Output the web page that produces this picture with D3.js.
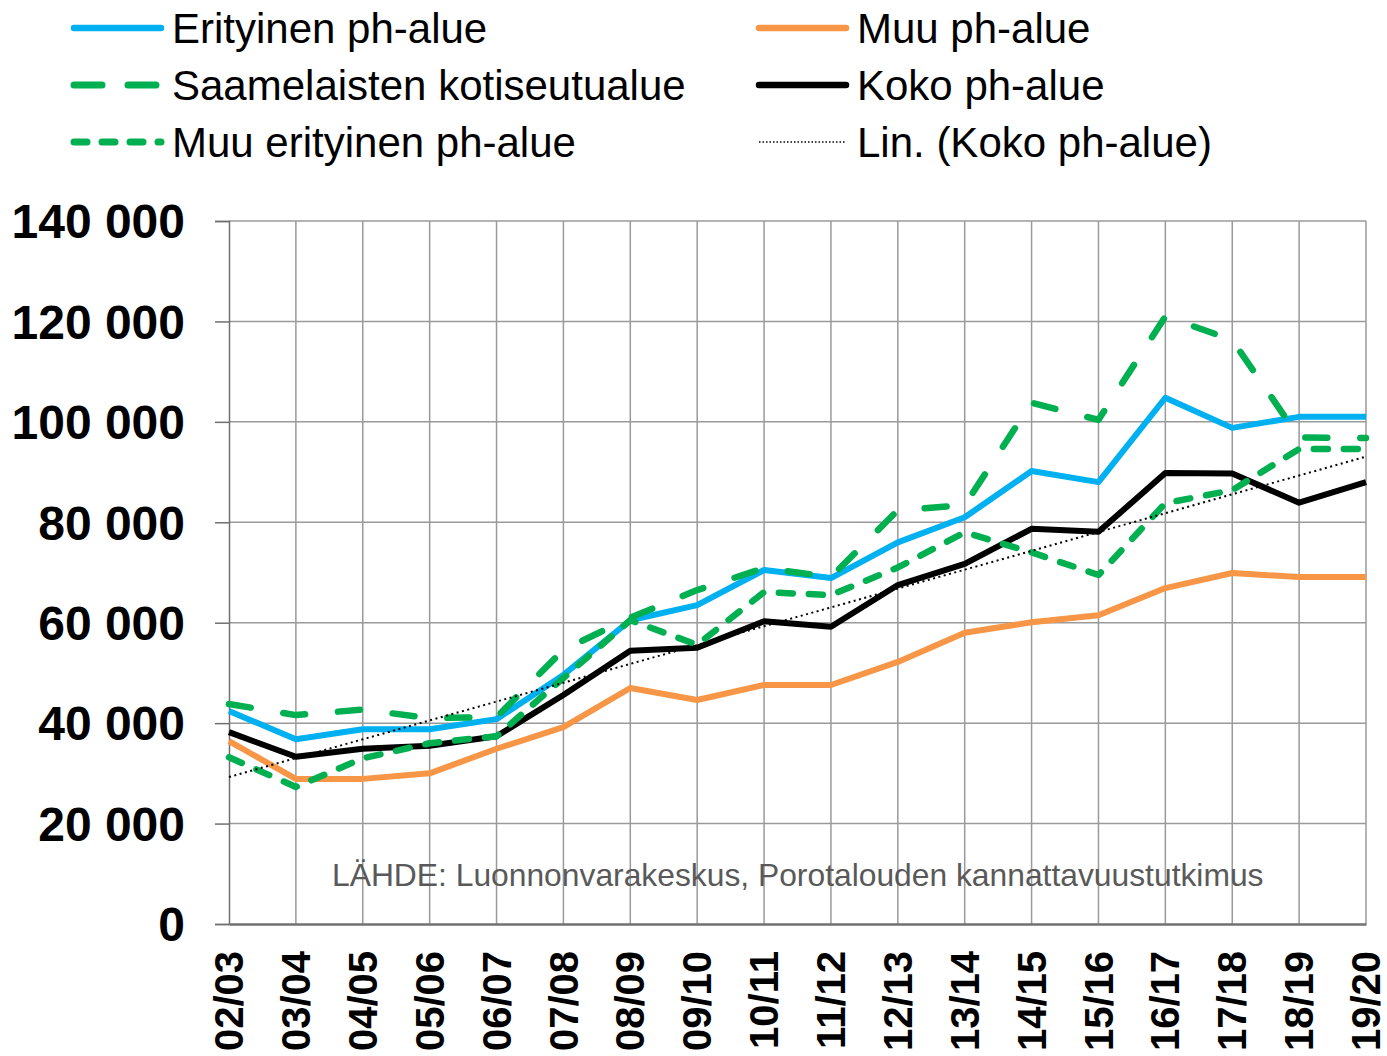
<!DOCTYPE html>
<html>
<head>
<meta charset="utf-8">
<script src="https://cdn.jsdelivr.net/npm/d3@7"></script>
<style>
  html, body { margin: 0; padding: 0; background: #fff; }
  svg { display: block; font-family: "Liberation Sans", Arial, sans-serif; }
</style>
</head>
<body>
<svg id="chart" width="1387" height="1056"></svg>
<script>
// ---- Data ----
const categories = ["02/03","03/04","04/05","05/06","06/07","07/08","08/09","09/10","10/11","11/12","12/13","13/14","14/15","15/16","16/17","17/18","18/19","19/20"];
const erityinen   = [42400, 36800, 38800, 38800, 40800, 49600, 60500, 63500, 70500, 68900, 76000, 81000, 90200, 88000, 104800, 98800, 101000, 101000];
const saamelaisten = [43800, 41600, 42700, 41000, 41200, 54600, 61000, 66500, 70900, 69100, 82400, 83400, 103800, 100400, 121000, 116300, 96900, 96800];
const muuErityinen = [33200, 27300, 33000, 36000, 37400, 49000, 60500, 55600, 66100, 65500, 71000, 78000, 74000, 69500, 83800, 86400, 94600, 94600];
const muuPh       = [36400, 28900, 28900, 30000, 34900, 39200, 47000, 44600, 47600, 47600, 52200, 58000, 60100, 61500, 66900, 69900, 69100, 69100];
const koko        = [38200, 33300, 34900, 35500, 37400, 45600, 54400, 55000, 60300, 59200, 67500, 71700, 78700, 78100, 89800, 89700, 83900, 88000];
const yTicks = [0, 20000, 40000, 60000, 80000, 100000, 120000, 140000];
const sourceText = "LÄHDE: Luonnonvarakeskus, Porotalouden kannattavuustutkimus";

// linear trend of Koko ph-alue (least squares)
const n = koko.length;
const mx = d3.mean(d3.range(n)), my = d3.mean(koko);
const slope = d3.sum(d3.range(n), i => (i - mx) * (koko[i] - my)) / d3.sum(d3.range(n), i => (i - mx) ** 2);
const intercept = my - slope * mx;
const trend = d3.range(n).map(i => intercept + slope * i);

// ---- Layout ----
const svg = d3.select("#chart");
const L = 229, R = 1366, T = 221, B = 924;
const x = d3.scalePoint().domain(categories).range([L, R]);
const y = d3.scaleLinear().domain([0, 140000]).range([B, T]);

// gridlines
const grid = svg.append("g");
grid.selectAll("line.h").data(yTicks.slice(1)).join("line")
  .attr("x1", L).attr("x2", R).attr("y1", d => y(d)).attr("y2", d => y(d))
  .attr("stroke", "#9a9a9a").attr("stroke-width", 1.5);
grid.selectAll("line.v").data(categories.slice(1)).join("line")
  .attr("x1", d => x(d)).attr("x2", d => x(d)).attr("y1", T).attr("y2", B)
  .attr("stroke", "#9a9a9a").attr("stroke-width", 1.5);

// y axis
const yAxis = d3.axisLeft(y).tickValues(yTicks).tickSize(14).tickPadding(30)
  .tickFormat(d => d3.format(",")(d).replace(/,/g, " "));
const gy = svg.append("g").attr("transform", `translate(${L},0)`).call(yAxis);
gy.select(".domain").attr("stroke", "#707070").attr("stroke-width", 1.5);
gy.selectAll(".tick line").attr("stroke", "#707070").attr("stroke-width", 1.5);
gy.selectAll(".tick text").attr("font-size", 48).attr("font-weight", "bold").attr("fill", "#000")
  .attr("font-family", "Liberation Sans, Arial, sans-serif").attr("dy", "0.35em");

// x axis
const xAxis = d3.axisBottom(x).tickSize(0).tickPadding(0);
const gx = svg.append("g").attr("transform", `translate(0,${B})`).call(xAxis);
gx.select(".domain").attr("stroke", "#707070").attr("stroke-width", 2.5);
gx.selectAll(".tick text")
  .attr("font-size", 40).attr("font-weight", "bold").attr("fill", "#000")
  .attr("font-family", "Liberation Sans, Arial, sans-serif")
  .attr("text-anchor", "end")
  .attr("transform", "translate(0,27) rotate(-90)")
  .attr("x", 0).attr("y", 0).attr("dy", "0.34em");

// source text
svg.append("text").attr("x", 332).attr("y", 886).text(sourceText)
  .attr("font-size", 31.8).attr("fill", "#595959");

// series
const line = d3.line().x((d, i) => x(categories[i])).y(d => y(d));
const series = [
  { name: "Erityinen ph-alue", values: erityinen, color: "#00B0F0", width: 6, dash: null },
  { name: "Muu ph-alue", values: muuPh, color: "#F79646", width: 6, dash: null },
  { name: "Koko ph-alue", values: koko, color: "#000000", width: 6, dash: null },
  { name: "Saamelaisten kotiseutualue", values: saamelaisten, color: "#00B050", width: 6.5, dash: "22,33" },
  { name: "Muu erityinen ph-alue", values: muuErityinen, color: "#00B050", width: 6.5, dash: "14,16" },
];
svg.append("g").selectAll("path").data(series).join("path")
  .attr("d", d => line(d.values))
  .attr("fill", "none").attr("stroke", d => d.color).attr("stroke-width", d => d.width)
  .attr("stroke-linejoin", "round")
  .attr("stroke-linecap", d => d.dash ? "round" : "butt")
  .attr("stroke-dasharray", d => d.dash);
svg.append("path").attr("d", line(trend)).attr("fill", "none")
  .attr("stroke", "#000").attr("stroke-width", 2).attr("stroke-dasharray", "2,3.5");

// legend
const legend = [
  { name: "Erityinen ph-alue", color: "#00B0F0", col: 0, row: 0, w: 6.5, dash: null, cap: "round" },
  { name: "Saamelaisten kotiseutualue", color: "#00B050", col: 0, row: 1, w: 7, dash: "28,26", cap: "round" },
  { name: "Muu erityinen ph-alue", color: "#00B050", col: 0, row: 2, w: 7, dash: "13,15", cap: "round" },
  { name: "Muu ph-alue", color: "#F79646", col: 1, row: 0, w: 6.5, dash: null, cap: "round" },
  { name: "Koko ph-alue", color: "#000000", col: 1, row: 1, w: 6.5, dash: null, cap: "round" },
  { name: "Lin. (Koko ph-alue)", color: "#000000", col: 1, row: 2, w: 1.5, dash: "1.5,2", cap: "butt" },
];
const colX = [74, 759];
const rowY = [28, 85, 142];
const lg = svg.append("g").selectAll("g").data(legend).join("g")
  .attr("transform", d => `translate(${colX[d.col]},${rowY[d.row]})`);
lg.append("line").attr("x1", 0).attr("x2", 87).attr("y1", 0).attr("y2", 0)
  .attr("stroke", d => d.color).attr("stroke-width", d => d.w)
  .attr("stroke-linecap", d => d.cap).attr("stroke-dasharray", d => d.dash);
lg.append("text").attr("x", 98).attr("y", 0).attr("dy", "0.36em").text(d => d.name)
  .attr("font-size", 42).attr("fill", "#000");
</script>
</body>
</html>
